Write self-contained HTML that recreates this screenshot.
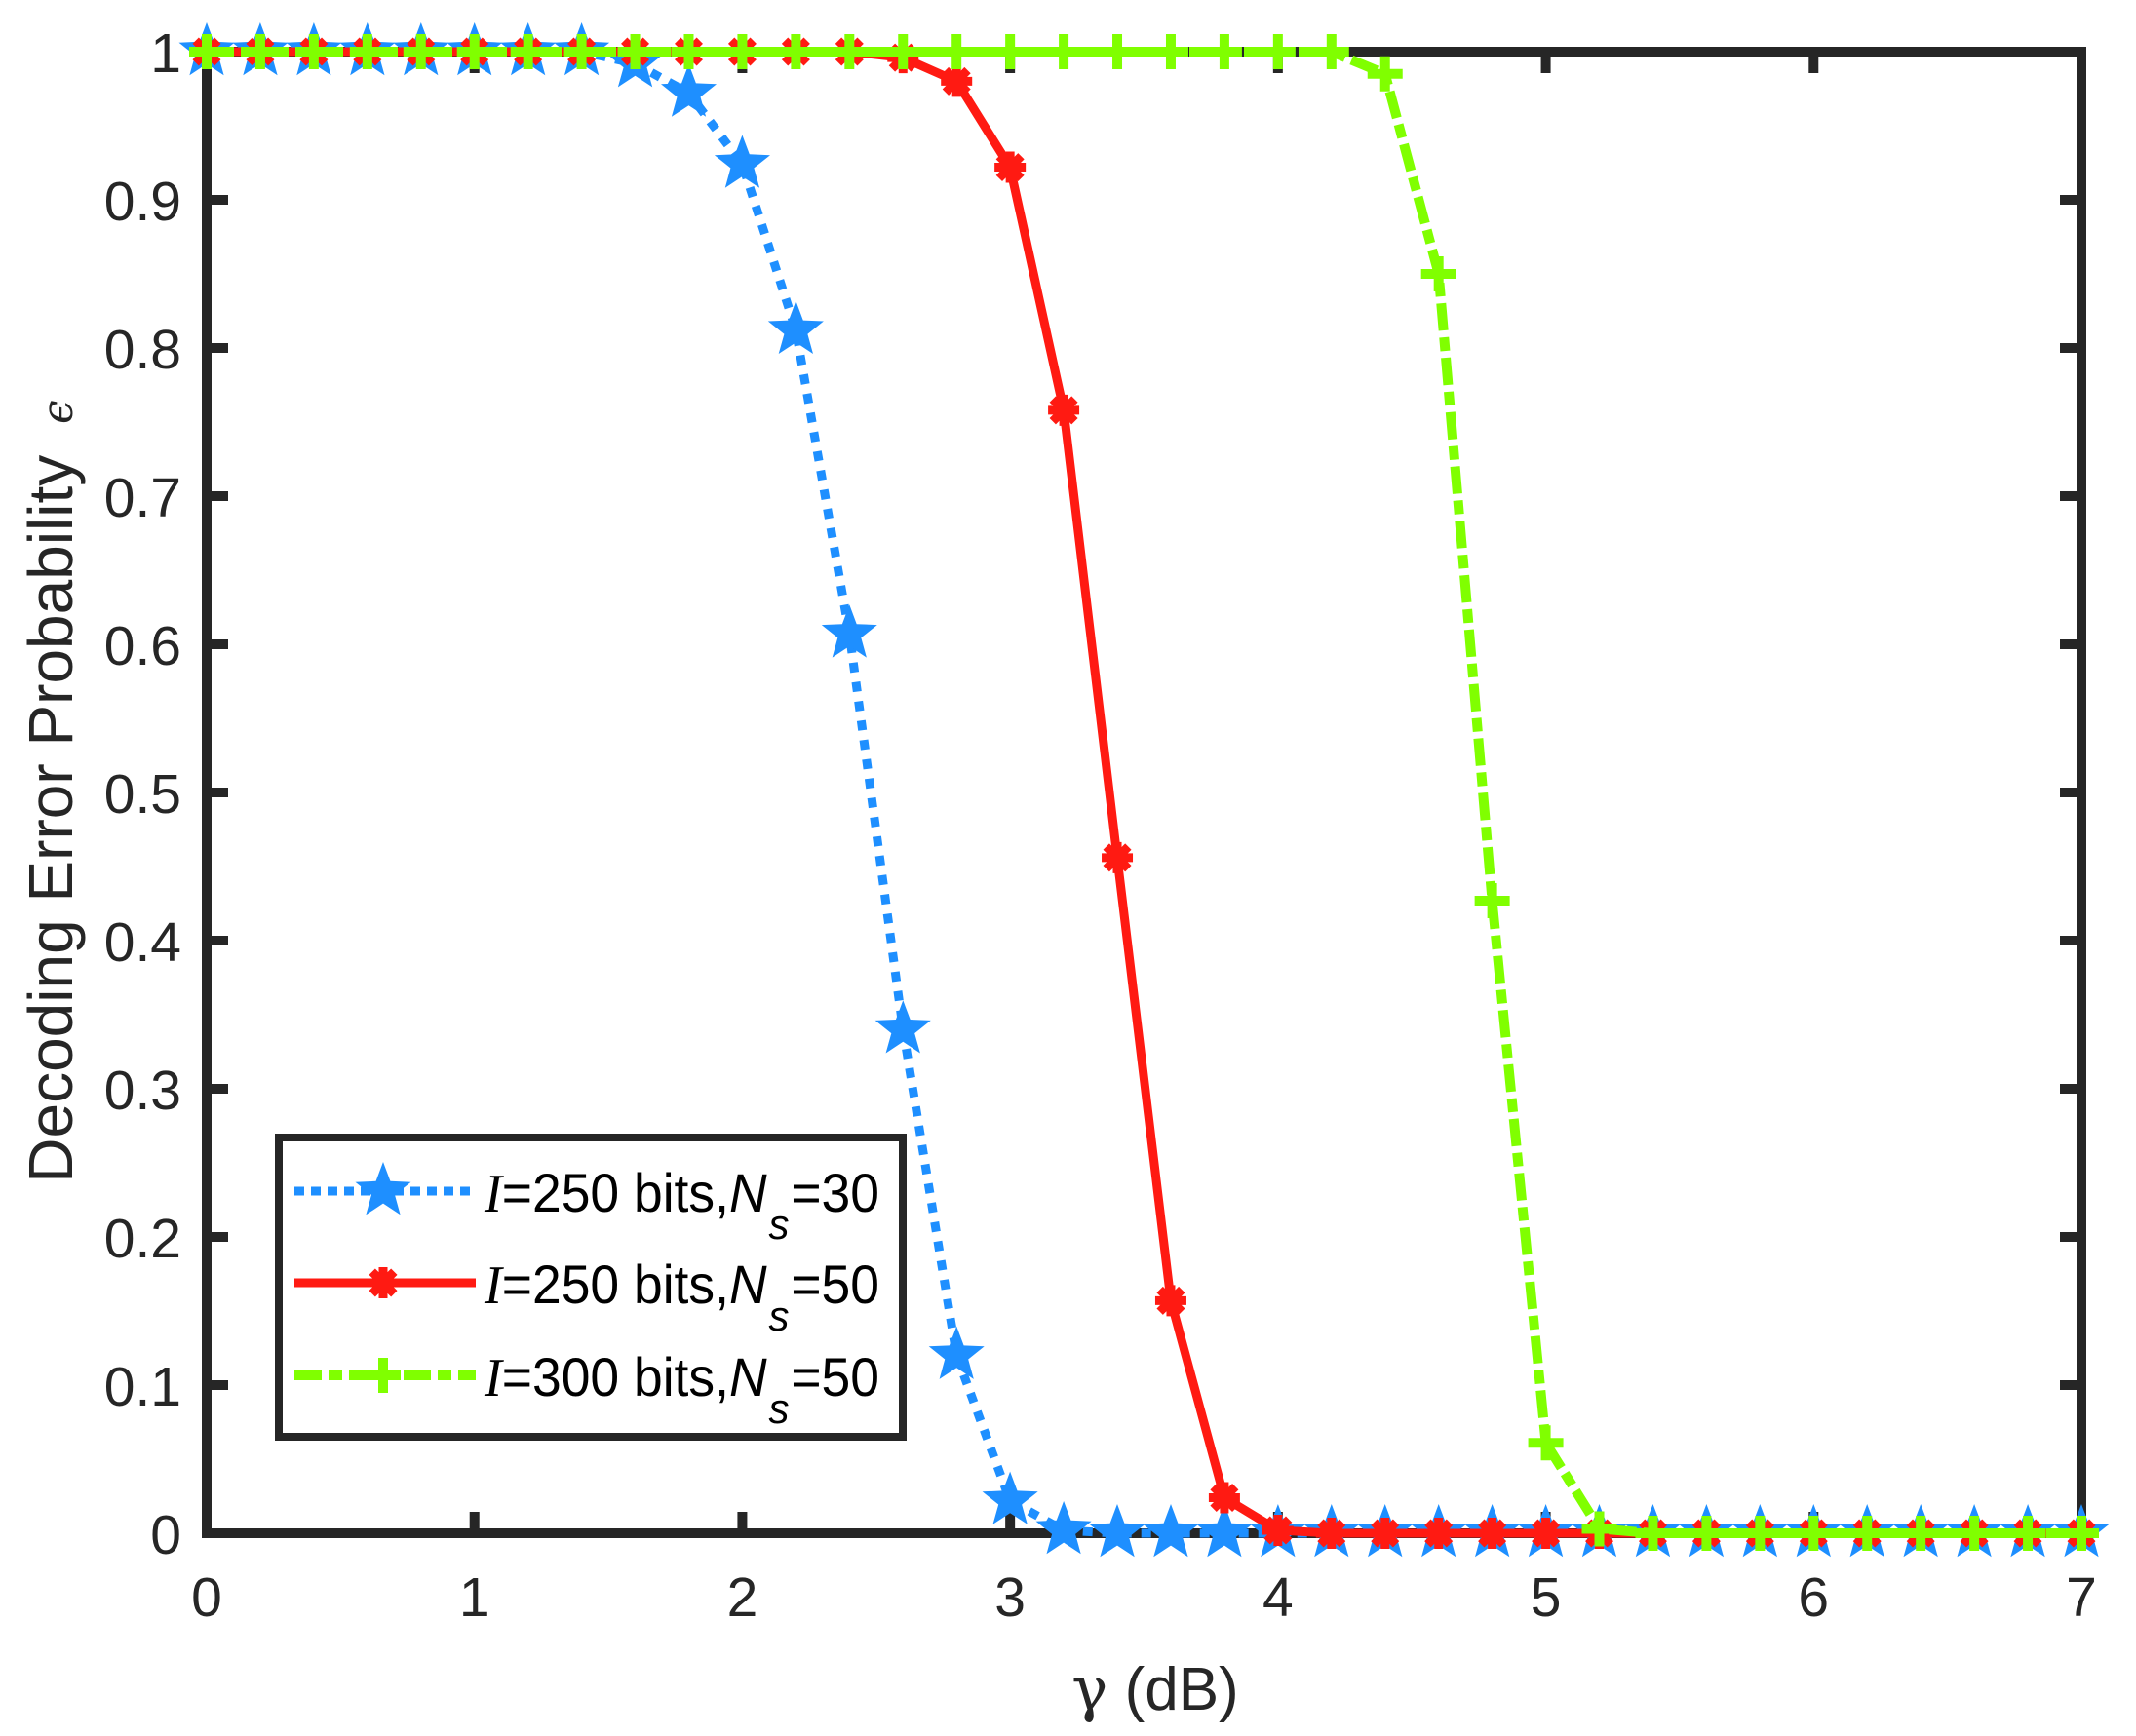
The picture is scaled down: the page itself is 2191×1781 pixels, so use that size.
<!DOCTYPE html>
<html><head><meta charset="utf-8">
<style>
html,body{margin:0;padding:0;background:#fff;}
svg{display:block;}
text{font-family:"Liberation Sans",Arial,sans-serif;fill:#262626;}
</style></head>
<body>
<svg id="s" width="2191" height="1781" viewBox="0 0 2191 1781" xmlns="http://www.w3.org/2000/svg">
<rect width="2191" height="1781" fill="#fff"/>
<g id="ticks"></g>
<rect x="212" y="53" width="1923" height="1520" fill="none" stroke="#262626" stroke-width="10"/>
<g id="data"></g>
<g id="labels" font-size="57"></g>
<text x="1185" y="1754" font-size="62" text-anchor="middle"><tspan font-family="DejaVu Serif, serif">γ</tspan> (dB)</text>
<text transform="translate(74,812) rotate(-90)" font-size="64" text-anchor="middle">Decoding Error Probability <tspan font-size="44" dx="14" font-family="DejaVu Serif, serif" font-style="italic">ϵ</tspan></text>
<g id="legend">
<rect x="286" y="1167" width="640" height="307" fill="#fff" stroke="#262626" stroke-width="8"/>
</g>
</svg>
<script>
const NS="http://www.w3.org/2000/svg";
const L=212,R=2135,T=53,B=1573;
const X=v=>L+v*(R-L)/7, Y=v=>B-v*(B-T);
function el(tag,attrs,parent){const e=document.createElementNS(NS,tag);for(const k in attrs)e.setAttribute(k,attrs[k]);document.getElementById(parent).appendChild(e);return e;}
for(let i=0;i<=7;i++){const x=X(i);
 el('line',{x1:x,y1:B,x2:x,y2:B-22,stroke:'#262626','stroke-width':10},'ticks');
 el('line',{x1:x,y1:T,x2:x,y2:T+22,stroke:'#262626','stroke-width':10},'ticks');
 const t=el('text',{x:x,y:1658,'text-anchor':'middle'},'labels');t.textContent=i;}
for(let i=0;i<=10;i++){const y=Y(i/10);
 el('line',{x1:L,y1:y,x2:L+22,y2:y,stroke:'#262626','stroke-width':10},'ticks');
 el('line',{x1:R,y1:y,x2:R-22,y2:y,stroke:'#262626','stroke-width':10},'ticks');
 const t=el('text',{x:186,y:y+21,'text-anchor':'end'},'labels');t.textContent=(i==0?'0':i==10?'1':(i/10).toString());}
const xs=[];for(let i=0;i<=35;i++)xs.push(i*0.2);
function series(map){return xs.map(x=>{const k=x.toFixed(1);return map[k]!==undefined?map[k]:(x<map.lo?1:0);});}
const blue=series({lo:1.55,'1.6':0.992,'1.8':0.972,'2.0':0.924,'2.2':0.812,'2.4':0.607,'2.6':0.340,'2.8':0.120,'3.0':0.022,'3.2':0.002});
const red=series({lo:2.55,'2.6':0.996,'2.8':0.980,'3.0':0.922,'3.2':0.758,'3.4':0.456,'3.6':0.157,'3.8':0.024,'4.0':0.002});
const green=series({lo:4.35,'4.4':0.985,'4.6':0.850,'4.8':0.427,'5.0':0.061,'5.2':0.003});
const CB='#1E8FFF',CR='#FF1A12',CG='#80FF00';
function star(cx,cy,r,parent,c){let p=[];for(let i=0;i<10;i++){const a=-Math.PI/2+i*Math.PI/5;const rr=i%2?r*0.42:r;p.push((cx+rr*Math.cos(a)).toFixed(1)+','+(cy+rr*Math.sin(a)).toFixed(1));}
 el('polygon',{points:p.join(' '),fill:c},parent);}
function aster(cx,cy,parent){const r=16;for(const [dx,dy] of [[1,0],[0,1],[0.707,0.707],[0.707,-0.707]])el('line',{x1:cx-r*dx,y1:cy-r*dy,x2:cx+r*dx,y2:cy+r*dy,stroke:CR,'stroke-width':9},parent);
 el('circle',{cx:cx,cy:cy,r:10,fill:CR},parent);}
function plus(cx,cy,parent){el('line',{x1:cx-18,y1:cy,x2:cx+18,y2:cy,stroke:CG,'stroke-width':10},parent);el('line',{x1:cx,y1:cy-18,x2:cx,y2:cy+18,stroke:CG,'stroke-width':10},parent);}
function pts(v){return xs.map((x,i)=>X(x).toFixed(1)+','+Y(v[i]).toFixed(1)).join(' ');}
el('polyline',{points:pts(blue),fill:'none',stroke:CB,'stroke-width':9,'stroke-dasharray':'10 10'},'data');
xs.forEach((x,i)=>star(X(x),Y(blue[i]),30,'data',CB));
el('polyline',{points:pts(red),fill:'none',stroke:CR,'stroke-width':9},'data');
xs.forEach((x,i)=>aster(X(x),Y(red[i]),'data'));
el('polyline',{points:pts(green),fill:'none',stroke:CG,'stroke-width':10,'stroke-dasharray':'28 7 14 7'},'data');
xs.forEach((x,i)=>plus(X(x),Y(green[i]),'data'));
const ly=[1222,1316,1411];
el('line',{x1:302,y1:ly[0],x2:488,y2:ly[0],stroke:CB,'stroke-width':9,'stroke-dasharray':'10 7'},'legend');star(393,ly[0],30,'legend',CB);
el('line',{x1:302,y1:ly[1],x2:488,y2:ly[1],stroke:CR,'stroke-width':9},'legend');aster(393,ly[1],'legend');
el('line',{x1:302,y1:ly[2],x2:488,y2:ly[2],stroke:CG,'stroke-width':10,'stroke-dasharray':'28 7 14 7'},'legend');plus(393,ly[2],'legend');
const labs=[['250','30'],['250','50'],['300','50']];
labs.forEach((l,i)=>{const t=el('text',{x:497,y:ly[i]+21,'font-size':56,fill:'#000',textLength:405,lengthAdjust:'spacingAndGlyphs'},'legend');
 t.innerHTML='<tspan font-family="Liberation Serif,serif" font-style="italic">I</tspan>='+l[0]+' bits,<tspan font-style="italic">N</tspan><tspan font-style="italic" font-size="44" dx="2" dy="28">s</tspan><tspan dy="-28" dx="2">='+l[1]+'</tspan>';
 t.style.fill='#000';});
</script>
</body></html>
